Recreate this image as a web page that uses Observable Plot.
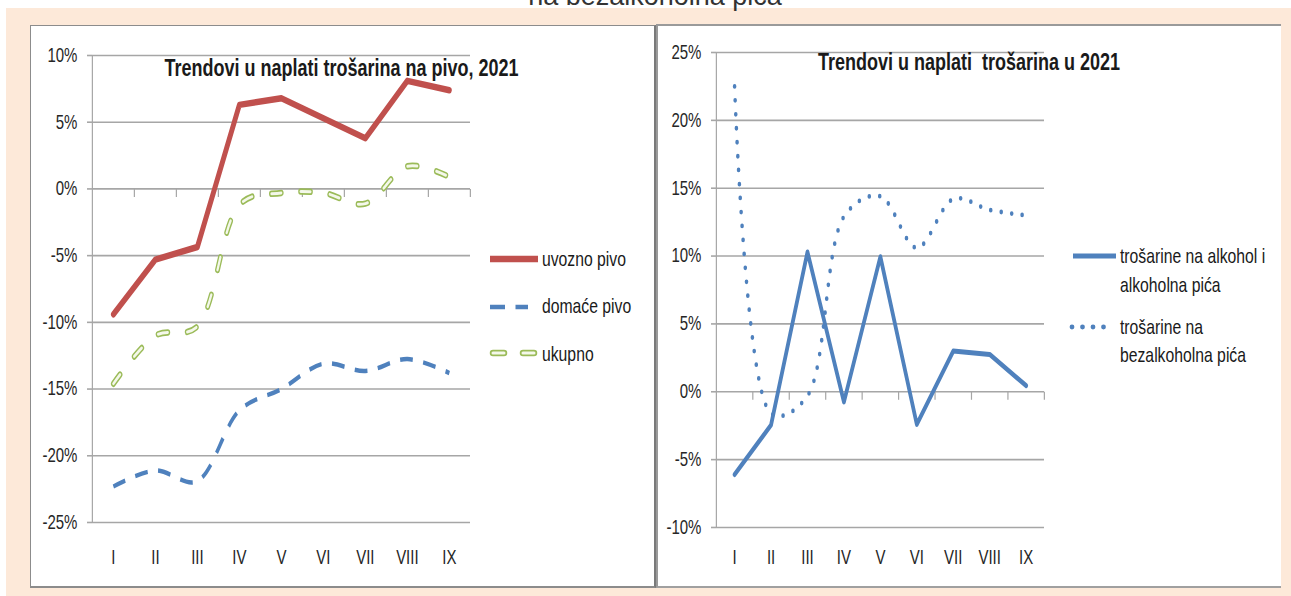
<!DOCTYPE html>
<html>
<head>
<meta charset="utf-8">
<script src="https://cdn.jsdelivr.net/npm/d3@7"></script>
<script src="https://cdn.jsdelivr.net/npm/@observablehq/plot@0.6"></script>
<style>
  html, body { margin:0; padding:0; }
  body { width:1291px; height:596px; position:relative; overflow:hidden; background:#fff; font-family:"Liberation Sans", Arial, sans-serif; }
  #bg { position:absolute; left:6px; top:8px; width:1285px; height:588px; background:#fde9d9; }
  .panel { position:absolute; background:#fff; box-sizing:border-box; }
  #panel1 { left:30px; top:25px; width:626px; height:563px; border-left:1px solid #8c8c8c; border-top:1px solid #8c8c8c; border-right:2px solid #7a7a7a; border-bottom:2px solid #8c8c8c; }
  #panel2 { left:656px; top:24px; width:625px; height:564px; border-left:2px solid #9a9a9a; border-top:2px solid #9a9a9a; border-bottom:2px solid #a0a0a0; }
  .chart { position:absolute; top:26px; transform-origin:0 0; transform:scaleX(0.75); }
  #chart1 { left:31px; }
  #chart2 { left:658px; }
  #overlay { position:absolute; left:0; top:0; pointer-events:none; }
</style>
</head>
<body>
<div id="bg"></div>
<div class="panel" id="panel1"></div>
<div class="panel" id="panel2"></div>
<div class="chart" id="chart1"></div>
<div class="chart" id="chart2"></div>
<svg id="overlay" width="1291" height="596"></svg>
<script>
// ---- data ----
const headingText = "na bezalkoholna pića";
const leftTitle = "Trendovi u naplati trošarina na pivo, 2021";
const rightTitle = "Trendovi u naplati  trošarina u 2021";
const months = ["I", "II", "III", "IV", "V", "VI", "VII", "VIII", "IX"];
const uvoznoPivo = [-9.4, -5.3, -4.35, 6.3, 6.8, 5.3, 3.8, 8.1, 7.4];
const domacePivo = [-22.3, -21.1, -21.9, -16.6, -15.0, -13.1, -13.65, -12.75, -13.8];
const ukupno = [-14.6, -11.0, -10.3, -1.2, -0.3, -0.3, -1.1, 1.7, 0.9];
const alkohol = [-6.1, -2.45, 10.3, -0.75, 9.95, -2.4, 3.0, 2.75, 0.45];
const bezalkoholna = [22.5, -1.6, -0.3, 12.9, 14.4, 10.6, 14.2, 13.4, 13.0];
const leftTicks = [-25, -20, -15, -10, -5, 0, 5, 10];
const rightTicks = [-10, -5, 0, 5, 10, 15, 20, 25];
const leftLegend = ["uvozno pivo", "domaće pivo", "ukupno"];
const rightLegend = [["trošarine na alkohol i", "alkoholna pića"], ["trošarine na", "bezalkoholna pića"]];

// ---- styles ----
const S = 0.75; // horizontal squeeze of the original picture
const gridColor = "#a6a6a6";
const textColor = "#262626";
const red = "#c0504d", blue = "#4f81bd", green = "#9bbb59", greenFill = "#f4f8ea";
const fontFamily = "'Liberation Sans', Arial, sans-serif";

const positions = months.map((_, i) => i + 1);
const bounds = [positions[0] - 0.5, ...positions.map(p => p + 0.5)];
const rows = values => months.map((m, i) => ({month: m, x: positions[i], value: values[i]}));
const tickDown = {draw(ctx) { ctx.moveTo(0, 0); ctx.lineTo(0, 8); }};

function frameMarks(ticks, pad) {
  return [
    Plot.gridY(ticks, {stroke: gridColor, strokeOpacity: 1, strokeWidth: 1.6}),
    Plot.ruleX([bounds[0]], {stroke: gridColor, strokeWidth: 1.6}),
    Plot.dot(bounds.slice(1), {x: d => d, y: 0, symbol: tickDown, stroke: gridColor, strokeWidth: 1.6, fill: "none"}),
    Plot.axisY(ticks, {tickSize: 5 / S, tickPadding: 10 / S, stroke: gridColor, strokeWidth: 1.6,
      tickFormat: d => `${d}%`, fontSize: 20, fill: textColor, label: null}),
    Plot.axisX(positions, {tickSize: 0, tickPadding: pad, tickFormat: d => months[d - 1],
      fontSize: 20, fill: textColor, label: null})
  ];
}
const baseStyle = {background: "transparent", fontFamily, color: textColor, overflow: "visible", maxWidth: "none"};

const chart1 = Plot.plot({
  width: 625 / S, height: 561,
  marginLeft: 61 / S, marginRight: 186 / S, marginTop: 29, marginBottom: 65,
  x: {domain: [bounds[0], bounds[bounds.length - 1]], label: null},
  y: {domain: [leftTicks[0], leftTicks[leftTicks.length - 1]], label: null},
  style: baseStyle,
  marks: [
    ...frameMarks(leftTicks, 27.5),
    Plot.line(rows(domacePivo), {x: "x", y: "value", stroke: blue, strokeWidth: 4.5, strokeDasharray: "17 14", strokeLinecap: "butt", curve: "catmull-rom"}),
    Plot.line(rows(ukupno), {x: "x", y: "value", stroke: green, strokeWidth: 6.5, strokeDasharray: "13 26", strokeLinecap: "round", curve: "catmull-rom"}),
    Plot.line(rows(ukupno), {x: "x", y: "value", stroke: greenFill, strokeWidth: 3, strokeDasharray: "13 26", strokeLinecap: "round", curve: "catmull-rom"}),
    Plot.line(rows(uvoznoPivo), {x: "x", y: "value", stroke: red, strokeWidth: 6.5})
  ]
});
document.getElementById("chart1").append(chart1);

const chart2 = Plot.plot({
  width: 623 / S, height: 561,
  marginLeft: 58 / S, marginRight: 237 / S, marginTop: 26, marginBottom: 60,
  x: {domain: [bounds[0], bounds[bounds.length - 1]], label: null},
  y: {domain: [rightTicks[0], rightTicks[rightTicks.length - 1]], label: null},
  style: baseStyle,
  marks: [
    ...frameMarks(rightTicks, 22.5),
    Plot.line(rows(bezalkoholna), {x: "x", y: "value", stroke: blue, strokeWidth: 4.8, strokeDasharray: "0 14", strokeLinecap: "round", curve: "catmull-rom"}),
    Plot.line(rows(alkohol), {x: "x", y: "value", stroke: blue, strokeWidth: 5})
  ]
});
document.getElementById("chart2").append(chart2);

// ---- heading, titles, legends ----
const ov = d3.select("#overlay");
ov.append("text").attr("x", 655).attr("y", 5).attr("text-anchor", "middle")
  .style("font", `27px ${fontFamily}`).attr("fill", "#333").text(headingText);

function squeezedText(x, y, text, size, weight, anchor, baseline) {
  ov.append("text")
    .attr("transform", `translate(${x},${y}) scale(${S},1)`)
    .attr("text-anchor", anchor)
    .attr("dominant-baseline", baseline)
    .style("font-family", fontFamily).style("font-size", size + "px").style("font-weight", weight)
    .style("white-space", "pre")
    .attr("fill", "#1a1a1a").text(text);
}
squeezedText(341.5, 76, leftTitle, 24, "bold", "middle", "auto");
squeezedText(969, 70, rightTitle, 24, "bold", "middle", "auto");

// left legend
const swatch = (x1, x2, y, stroke, width, dash, cap) => ov.append("line")
  .attr("x1", x1).attr("x2", x2).attr("y1", y).attr("y2", y)
  .attr("stroke", stroke).attr("stroke-width", width)
  .attr("stroke-dasharray", dash).attr("stroke-linecap", cap);
swatch(490, 538, 259, red, 6.5, null, "butt");
swatch(490, 528, 307, blue, 4.5, "15 10.5", "butt");
swatch(493, 534, 353, green, 6.5, "11 19", "round");
swatch(493, 534, 353, greenFill, 3, "11 19", "round");
const leftLegendY = [258.5, 306, 354];
leftLegend.forEach((name, i) => squeezedText(542, leftLegendY[i], name, 21, "normal", "start", "central"));

// right legend
swatch(1073, 1116, 256, blue, 5, null, "butt");
swatch(1072, 1114, 327, blue, 4.8, "0 10.5", "round");
const rightLegendY = [[256, 285], [327, 355]];
rightLegend.forEach((lines, i) => lines.forEach((line, j) =>
  squeezedText(1120, rightLegendY[i][j], line, 21, "normal", "start", "central")));
</script>
</body>
</html>
